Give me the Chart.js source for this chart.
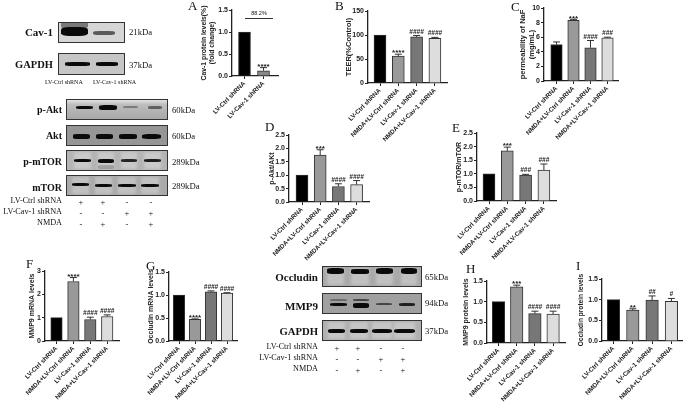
<!DOCTYPE html>
<html><head><meta charset="utf-8">
<script src="https://cdn.jsdelivr.net/npm/chart.js@4"></script>
<style>
html,body{margin:0;padding:0;background:#fff;width:685px;height:402px;overflow:hidden}
#page{position:relative;width:685px;height:402px;overflow:hidden;filter:blur(0.45px)}
canvas{position:absolute}
.t{position:absolute;white-space:nowrap;line-height:1;color:#111;font-family:"Liberation Serif",serif}
.blot{position:absolute;box-sizing:border-box;border:1px solid #333;overflow:hidden}
.band{position:absolute;background:#0a0a0a;border-radius:30%;filter:blur(0.7px)}
.smear{position:absolute;background:rgba(255,255,255,.28);filter:blur(1.5px)}
</style></head><body><div id="page"></div>
<script>
const categories = ["LV-Ctrl shRNA","NMDA+LV-Ctrl shRNA","LV-Cav-1 shRNA","NMDA+LV-Cav-1 shRNA"];
const categoriesA = ["LV-Ctrl shRNA","LV-Cav-1 shRNA"];

const valuesA = [1.0,0.12];          const errorsA = [0,0.07];
const valuesB = [100,56,96,93];      const errorsB = [0,4,3,2];
const valuesC = [5.0,8.3,4.55,5.9];  const errorsC = [0.35,0.15,1.0,0.1];
const valuesD = [1.0,1.75,0.58,0.65];const errorsD = [0,0.2,0.1,0.15];
const valuesE = [1.0,1.84,0.95,1.14];const errorsE = [0,0.14,0.03,0.22];
const valuesF = [1.0,2.55,0.92,1.05];const errorsF = [0,0.17,0.1,0.07];
const valuesG = [1.0,0.47,1.07,1.04];const errorsG = [0,0.01,0.02,0.01];
const valuesH = [1.0,1.36,0.71,0.70];const errorsH = [0,0.04,0.06,0.07];
const valuesI = [1.0,0.75,0.99,0.96];const errorsI = [0,0.03,0.1,0.07];

const marksA = ["","****"];
const marksB = ["","****","####","####"];
const marksC = ["","***","####","###"];
const marksD = ["","***","####","####"];
const marksE = ["","***","###","###"];
const marksF = ["","****","####","####"];
const marksG = ["","****","####","####"];
const marksH = ["","***","####","####"];
const marksI = ["","**","##","#"];

const fills = ["#000000","#999999","#777777","#dddddd"];
const fillsA = ["#000000","#888888"];

const panels = [
 {cats:categoriesA,v:valuesA,e:errorsA,m:marksA,f:fillsA,title:["Cav-1 protein levels(%)","(fold change)"],ts:6.8,max:1.5,step:.5,dec:1,L:232,R:278,T:10,B:76,c0:244.5,gap:19,bw:12,tx:204},
 {cats:categories,v:valuesB,e:errorsB,m:marksB,f:fills,title:"TEER(%Control)",ts:7.5,max:150,step:50,dec:0,L:368,R:447,T:11,B:83,c0:380,gap:18.3,bw:12,tx:349},
 {cats:categories,v:valuesC,e:errorsC,m:marksC,f:fills,title:["permeability of NaF","(mg/mL)"],ts:7.5,max:10,step:2,dec:0,L:544,R:618,T:8,B:81,c0:556.5,gap:17,bw:11.5,tx:523},
 {cats:categories,v:valuesD,e:errorsD,m:marksD,f:fills,title:"p-Akt/AKt",ts:7,max:2.5,step:.5,dec:1,L:289,R:369,T:135,B:202,c0:302,gap:18.2,bw:12,tx:272},
 {cats:categories,v:valuesE,e:errorsE,m:marksE,f:fills,title:"p-mTOR/mTOR",ts:7,max:2.5,step:.5,dec:1,L:477,R:556,T:133,B:201,c0:489,gap:18.3,bw:12,tx:459},
 {cats:categories,v:valuesF,e:errorsF,m:marksF,f:fills,title:"MMP9 mRNA levels",ts:7,max:3,step:1,dec:0,L:45,R:119,T:271,B:341,c0:56.5,gap:16.9,bw:11.5,tx:32},
 {cats:categories,v:valuesG,e:errorsG,m:marksG,f:fills,title:"Occludin mRNA levels",ts:7,max:1.5,step:.5,dec:1,L:169,R:237,T:272,B:341,c0:179,gap:16,bw:11.5,tx:151},
 {cats:categories,v:valuesH,e:errorsH,m:marksH,f:fills,title:"MMP9 protein levels",ts:7,max:1.5,step:.5,dec:1,L:487,R:565,T:281,B:343,c0:498.5,gap:18.2,bw:12.5,tx:466},
 {cats:categories,v:valuesI,e:errorsI,m:marksI,f:fills,title:"Occludin protein levels",ts:6.6,max:1.5,step:.5,dec:1,L:602,R:682,T:279,B:341,c0:613.5,gap:19.3,bw:12.5,tx:581}
];

const page = document.getElementById('page');
const SANS = '"Liberation Sans",Arial,sans-serif';

const errorMarks = {
  id:'errorMarks',
  afterDatasetsDraw(chart,_a,o){
    const {ctx,scales:{x,y}} = chart;
    ctx.save();
    o.v.forEach((val,i)=>{
      const px=x.getPixelForValue(i), yTop=y.getPixelForValue(val+o.e[i]);
      if(o.e[i]>0){
        ctx.strokeStyle='#333';ctx.lineWidth=1;ctx.beginPath();
        ctx.moveTo(px,y.getPixelForValue(val));ctx.lineTo(px,yTop);
        ctx.moveTo(px-3.5,yTop);ctx.lineTo(px+3.5,yTop);ctx.stroke();
      }
      if(o.m[i]){
        ctx.fillStyle='#222';ctx.textAlign='center';
        const hash=o.m[i][0]==='#';
        ctx.font=(hash?'italic bold 6.5px ':'bold 8px ')+SANS;
        ctx.textBaseline='bottom';
        ctx.fillText(o.m[i],px,yTop+(hash?-0.5:3));
      }
    });
    ctx.restore();
  }
};

panels.forEach(p=>{
  const mL=55,mR=6,mT=8,mB=80;
  const cx=p.L-mL, cy=p.T-mT, w=p.R-p.L+mL+mR, h=p.B-p.T+mT+mB;
  const cv=document.createElement('canvas');
  cv.width=w;cv.height=h;
  cv.style.left=cx+'px';cv.style.top=cy+'px';cv.style.width=w+'px';cv.style.height=h+'px';
  page.appendChild(cv);
  new Chart(cv,{
    type:'bar',
    data:{datasets:[{
      data:p.v.map((y,i)=>({x:i,y})),
      backgroundColor:p.f,borderColor:'#333',borderWidth:1,barThickness:p.bw
    }]},
    plugins:[errorMarks],
    options:{
      responsive:false,animation:false,devicePixelRatio:1,
      layout:{padding:{top:mT,right:mR,left:0,bottom:0}},
      plugins:{legend:{display:false},tooltip:{enabled:false},errorMarks:{v:p.v,e:p.e,m:p.m}},
      scales:{
        x:{type:'linear',offset:false,
          min:(p.L-p.c0)/p.gap,
          max:(p.cats.length-1)+(p.R-(p.c0+p.gap*(p.cats.length-1)))/p.gap,
          afterBuildTicks(s){s.ticks=p.cats.map((_,i)=>({value:i}));},
          afterFit(s){s.height=mB;},
          grid:{offset:false,drawOnChartArea:false,drawTicks:true,tickLength:3,tickColor:'#222',tickWidth:1},
          border:{color:'#222',width:1.3},
          ticks:{autoSkip:false,minRotation:45,maxRotation:45,padding:1,color:'#222',
            font:{family:SANS,size:6.3,weight:'bold'},
            callback:v=>p.cats[v]||''}
        },
        y:{min:0,max:p.max,
          afterFit(s){s.width=mL;},
          grid:{drawOnChartArea:false,drawTicks:true,tickLength:3,tickColor:'#222',tickWidth:1},
          border:{color:'#222',width:1.3},
          ticks:{stepSize:p.step,padding:1,color:'#222',
            font:{family:SANS,size:7,weight:'bold'},
            callback:v=>v.toFixed(p.dec)},
          title:{display:true,text:p.title,color:'#222',
            font:{family:SANS,size:p.ts,weight:'bold',lineHeight:1.2},
            padding:{top:p.tx-cx-p.ts*.6,bottom:0}}
        }
      }
    }
  });
});

function text(s,x,y,size,opts={}){
  const d=document.createElement('div');d.className='t';d.textContent=s;
  d.style.fontSize=size+'px';d.style.top=(y-size/2)+'px';
  if(opts.right!==undefined){d.style.right=(685-opts.right)+'px';}else if(opts.center){d.style.left=x+'px';d.style.transform='translateX(-50%)';}else{d.style.left=x+'px';}
  if(opts.bold)d.style.fontWeight='bold';
  if(opts.sans)d.style.fontFamily=SANS;
  page.appendChild(d);return d;
}

function blot(x0,y0,x1,y1,bg,bands,smears){
  const b=document.createElement('div');b.className='blot';
  b.style.cssText=`left:${x0}px;top:${y0}px;width:${x1-x0}px;height:${y1-y0}px;background:${bg}`;
  (smears||[]).forEach(r=>{
    const s=document.createElement('div');s.className='smear';
    s.style.cssText=`left:${r[0]-x0-1}px;top:1px;width:${r[1]-r[0]}px;height:${y1-y0-4}px`;
    b.appendChild(s);
  });
  bands.forEach(r=>{
    const s=document.createElement('div');s.className='band';
    s.style.cssText=`left:${r[0]-x0-1}px;top:${r[2]-y0-1}px;width:${r[1]-r[0]}px;height:${r[3]}px;opacity:${r[4]===undefined?1:r[4]}`;
    b.appendChild(s);
  });
  page.appendChild(b);
}

// Western blots
blot(58,22,125,43,'#d6d6d6',[[61,88,21,8,.45],[61,88,27,9],[93,115,31,4,.6]]);
blot(58,53,125,75,'#c6c6c6',[[65,90,62,3.5],[96,118,62,3.5]]);
blot(66,99,168,120,'linear-gradient(#e2e2e2,#bcbcbc 25%,#a8a8a8)',[[76,93,105.5,3.5],[99,117,104.5,5],[123,138,106,2,.35],[148,162,106,2.5,.5]]);
blot(66,125,168,146,'#969696',[[73,90,134,4.5],[96,113,134,4.5],[119,137,134,4.5],[142,161,134,4.5]]);
blot(66,150,168,171,'#b4b4b4',[[74,91,159,2.5],[98,114,159,4],[121,137,159,2.5,.85],[144,161,159,2.5,.9],[98,114,165,4,.2]],[[74,91],[98,114],[121,137],[144,161]]);
blot(66,175,168,196,'#aaaaaa',[[72,89,183,3],[95,112,183.5,3],[118,136,183.5,3],[141,159,183.5,3]],[[72,89],[95,112],[118,136],[141,159]]);
blot(322,266,422,287,'#a9a9a9',[[327,344,268,5.5],[351,369,269,4.5],[376,393,268,5.5],[401,417,268,5.5]],[[327,344],[351,369],[376,393],[401,417]]);
blot(322,293,422,314,'#a0a0a0',[[330,347,303,3],[353,369,303,4.5],[376,392,303,2,.6],[399,415,303,2.5,.85],[330,347,299,1.5,.35],[353,369,299,1.5,.6]]);
blot(322,320,422,341,'#b0b0b0',[[328,345,328.5,4],[350,368,328.5,4],[372,392,328.5,4],[394,415,328.5,4]],[[328,345],[350,368],[372,392],[394,415]]);

// Blot labels
[["Cav-1",53,32,11],["GAPDH",53,65,10.5],["p-Akt",62,110,10],["Akt",62,136,10],["p-mTOR",62,162,10],["mTOR",62,188,10],
 ["Occludin",318,277,11],["MMP9",318,306,11],["GAPDH",318,331,10.7]].forEach(a=>text(a[0],0,a[2],a[3],{right:a[1],bold:true}));
[["21kDa",129,32],["37kDa",129,65],["60kDa",172,110],["60kDa",172,136],["289kDa",172,162],["289kDa",172,186],
 ["65kDa",425,277],["94kDa",425,303],["37kDa",425,331]].forEach(a=>text(a[0],a[1],a[2],8.7));
text("LV-Ctrl shRNA",45,82,6);text("LV-Cav-1 shRNA",93,82,6);

const tableRows = ["LV-Ctrl shRNA","LV-Cav-1 shRNA","NMDA"];
const tableSigns = [["+","+","-","-"],["-","-","+","+"],["-","+","-","+"]];
function table(right,ys,cols){
  tableRows.forEach((r,i)=>{
    text(r,0,ys[i],8.2,{right});
    tableSigns[i].forEach((s,j)=>text(s,cols[j],ys[i]+1,8.5,{center:true}));
  });
}
table(62,[201,212,223],[81,103,127,151]);
table(318,[347,358,369],[337,358,381,403]);

// Panel letters
[["A",188,5],["B",335,5],["C",511,6],["D",265,126],["E",452,127],["F",26,263],["G",146,265],["H",466,268],["I",576,265]]
 .forEach(a=>text(a[0],a[1],a[2],13));

// Panel A bracket
text("88.2%",259,14,5.5,{center:true,sans:true});
const line=document.createElement('div');
line.style.cssText='position:absolute;left:245px;top:18px;width:28px;height:1px;background:#333';
page.appendChild(line);
</script></body></html>
